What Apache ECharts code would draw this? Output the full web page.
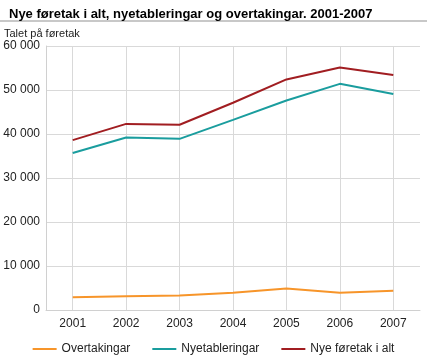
<!DOCTYPE html>
<html><head><meta charset="utf-8">
<script src="https://cdn.jsdelivr.net/npm/echarts@6/dist/echarts.min.js"></script>
<style>html,body{margin:0;padding:0;background:#fff}#c{width:427px;height:364px}</style>
</head><body><div id="c"></div>
<script>
const years = ['2001','2002','2003','2004','2005','2006','2007'];
const overtakingar = [2900, 3100, 3300, 3900, 4900, 3900, 4400];
const nyetableringar = [35700, 39200, 38900, 43200, 47600, 51400, 49100];
const nyeAlt = [38600, 42300, 42100, 47100, 52400, 55100, 53400];
const yTicks = [0, 10000, 20000, 30000, 40000, 50000, 60000];

const chart = echarts.init(document.getElementById('c'), null, {renderer:'canvas'});
const font = 'Arial, "Liberation Sans", sans-serif';
function mk(name, data, color){
  return {name, type:'line', data, symbol:'none', smooth:false,
    lineStyle:{color, width:2}, itemStyle:{color}, z:3};
}
const s0 = mk('Overtakingar', overtakingar, '#f7952a');
s0.markLine = {silent:true, symbol:'none', label:{show:false}, animation:false,
  lineStyle:{color:'#d9d9d9', width:1, type:'solid'},
  data: years.map(y=>({xAxis:y}))};
s0.markLine.z = 1;
chart.setOption({
  animation:false,
  title:{text:'Nye føretak i alt, nyetableringar og overtakingar. 2001-2007', left:4, top:3,
    textStyle:{fontFamily:font, fontSize:13, fontWeight:'bold', color:'#000'}},
  graphic:[
    {type:'rect', shape:{x:0,y:20,width:427,height:2}, style:{fill:'#c8c8c8'}},
    {type:'text', left:4, top:28, style:{text:'Talet på føretak', font:'11px '+font, fill:'#222'}}
  ],
  grid:{left:46, right:7, top:46, bottom:54, containLabel:false},
  legend:{bottom:4, left:'center', itemWidth:24, itemHeight:2, itemGap:22,
    icon:'rect', textStyle:{fontFamily:font, fontSize:12, color:'#222'},
    data:['Overtakingar','Nyetableringar','Nye føretak i alt']},
  xAxis:{type:'category', data:years, boundaryGap:true,
    axisLine:{lineStyle:{color:'#d0d0d0', width:1}},
    axisTick:{show:false},
    axisLabel:{color:'#222', fontFamily:font, fontSize:12, margin:8},
    splitLine:{show:false}},
  yAxis:{type:'value', min:0, max:60000, interval:10000,
    axisLine:{show:true, lineStyle:{color:'#d0d0d0', width:1}},
    axisTick:{show:false},
    splitLine:{show:true, lineStyle:{color:'#d9d9d9', width:1}},
    axisLabel:{color:'#222', fontFamily:font, fontSize:12, margin:6,
      formatter:v=> yTicks.includes(v) ? String(v).replace(/\B(?=(\d{3})+(?!\d))/g,' ') : ''}},
  series:[s0, mk('Nyetableringar', nyetableringar, '#1a9d9e'), mk('Nye føretak i alt', nyeAlt, '#a11d21')]
});
</script></body></html>
